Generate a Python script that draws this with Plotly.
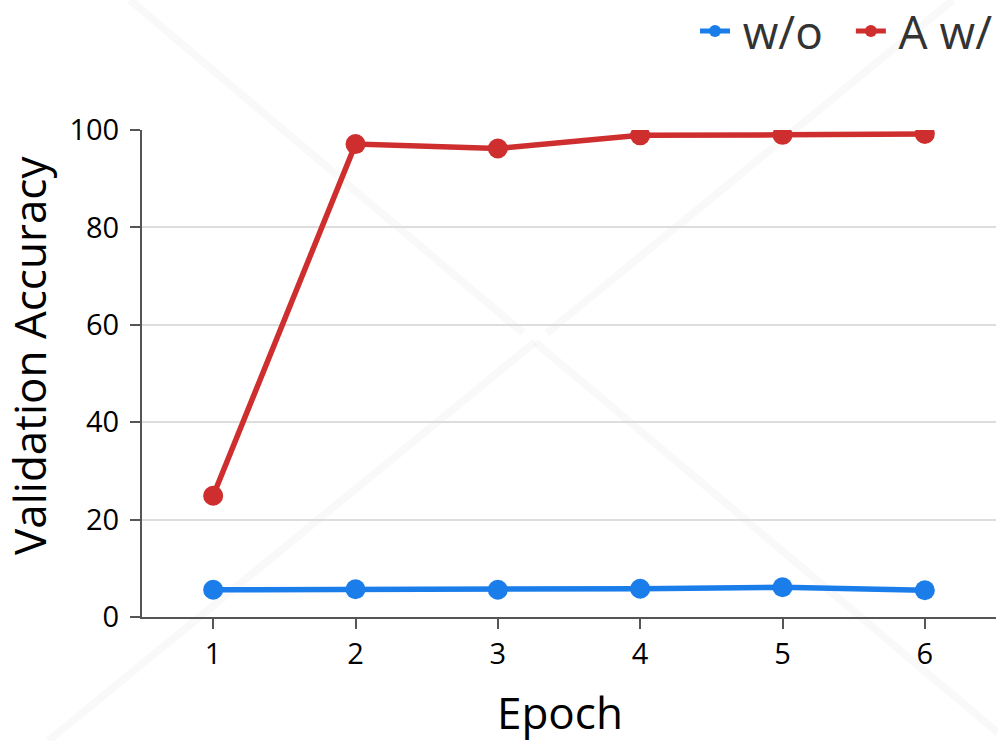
import plotly.graph_objects as go

epochs = [1, 2, 3, 4, 5, 6]
without_vals = [5.6, 5.7, 5.6, 5.8, 6.1, 5.5]
with_vals = [24.9, 97.1, 96.2, 98.9, 99.0, 99.2]
series_names = ["\u2006w/o\u2002", "\u2006A w/"]
series_colors = ["#1a7de9", "#cf2e2e"]
y_ticks = [0, 20, 40, 60, 80, 100]
x_title = "Epoch"
y_title = "Validation Accuracy"

FONT = "Open Sans"
W, H = 998, 741
ML, MR, MT, MB = 142, 2, 130, 124
PW, PH = W - ML - MR, H - MT - MB


def px(xp):
    return (xp - ML) / PW


def py(yp):
    return (H - MB - yp) / PH


fig = go.Figure()
for name, vals, col in zip(series_names, [without_vals, with_vals], series_colors):
    fig.add_trace(go.Scatter(
        x=epochs, y=vals, name=name, mode="lines+markers",
        line=dict(color=col, width=5.5),
        marker=dict(color=col, size=20),
    ))

# faint watermark "X"
wm = "rgba(0,0,0,0.025)"
segs = [((130, 0), (523, 333)), ((535, 342), (998, 733)),
        ((953, 0), (547, 333)), ((535, 342), (48, 741))]
shapes = []
for (x0, y0), (x1, y1) in segs:
    shapes.append(dict(type="line", xref="paper", yref="paper",
                       x0=px(x0), y0=py(y0), x1=px(x1), y1=py(y1),
                       line=dict(color=wm, width=8), layer="below"))

annotations = [
    dict(text=y_title, textangle=-90, xref="paper", yref="paper",
         x=px(29), y=py(356), xanchor="center", yanchor="middle", showarrow=False,
         font=dict(size=44, color="black", family=FONT)),
    dict(text=x_title, xref="paper", yref="paper",
         x=px(560), y=py(712), xanchor="center", yanchor="middle", showarrow=False,
         font=dict(size=44, color="black", family=FONT)),
]

fig.update_layout(
    width=W, height=H,
    margin=dict(l=ML, r=MR, t=MT, b=MB, autoexpand=False),
    paper_bgcolor="white", plot_bgcolor="white",
    font=dict(family=FONT, color="black"),
    showlegend=True,
    legend=dict(orientation="h", xref="container", yref="container",
                x=1.0, xanchor="right", y=1 - 31 / H, yanchor="middle",
                font=dict(size=46, color="#333333"), itemsizing="constant",
                bgcolor="rgba(0,0,0,0)"),
    shapes=shapes,
    annotations=annotations,
    xaxis=dict(range=[0.5, 6.5], tickvals=epochs, ticktext=[str(e) for e in epochs],
               showgrid=False, showline=True, linecolor="#555555", linewidth=2,
               ticks="outside", ticklen=10, tickwidth=2, tickcolor="#555555",
               tickfont=dict(size=29, color="black"),
               zeroline=False),
    yaxis=dict(range=[0, 100], tickvals=y_ticks,
               showgrid=True, gridcolor="#dddddd", gridwidth=2,
               showline=True, linecolor="#555555", linewidth=2,
               ticks="outside", ticklen=10, tickwidth=2, tickcolor="#555555",
               ticklabelstandoff=5,
               tickfont=dict(size=29, color="black"),
               zeroline=False),
)

fig.write_html("out.html", config={"displayModeBar": False},
               post_script="document.body.style.margin='0';document.body.style.overflow='hidden';")
